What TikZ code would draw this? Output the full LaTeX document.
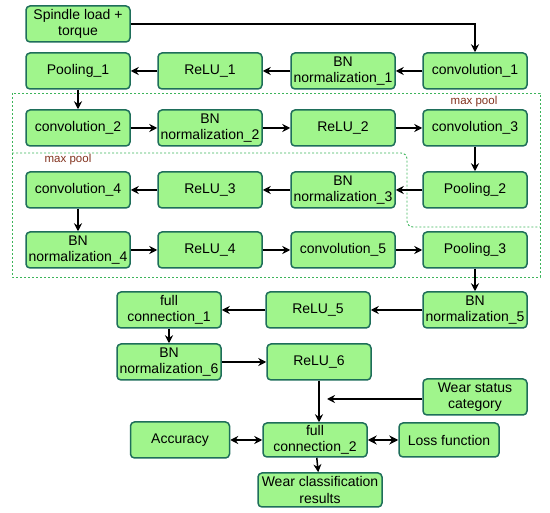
\documentclass[tikz,border=0pt]{standalone}
\usepackage{fontspec}
\setmainfont{Liberation Sans}
\usepackage{xcolor}
\usetikzlibrary{arrows.meta}
\definecolor{boxfill}{RGB}{160,245,140}
\definecolor{boxline}{RGB}{30,110,90}
\definecolor{pooldash}{RGB}{60,180,90}
\definecolor{pooltext}{RGB}{130,50,30}
\tikzset{
	block/.style={draw=boxline, fill=boxfill, line width=1.5pt, rounded corners=4pt,
			minimum width=104pt, minimum height=36pt, inner sep=1pt, align=center,
			font=\fontsize{14}{16.5}\selectfont},
	flow/.style={-{Stealth[length=8pt,width=8pt]}, line width=1.5pt},
	poolbox/.style={draw=pooldash, line width=0.9pt, dash pattern=on 2pt off 2pt},
	poollabel/.style={text=pooltext, font=\fontsize{11.5}{13}\selectfont, inner sep=1pt}
}

\begin{document}
\begin{tikzpicture}[x=1pt, y=-1pt]
	\useasboundingbox (0,0) rectangle (550,513);

	% max pool regions
	\draw[poolbox] (12,93) rectangle (540,277);
	\draw[poolbox, rounded corners=6pt] (12,153) -- (407,153) -- (407,227) -- (540,227);
	\node[poollabel] (mpa) at (474,102) {max pool};
	\node[poollabel] (mpb) at (68,160) {max pool};

	% Input and first block
	\node[block] (spin) at (78,24) {Spindle load +\\torque};
	\node[block] (pool1) at (78,71) {Pooling\_1};
	\node[block] (relu1) at (210,71) {ReLU\_1};
	\node[block] (bn1) at (343,71) {BN\\normalization\_1};
	\node[block] (conv1) at (475,71) {convolution\_1};

	% Second row
	\node[block] (conv2) at (78,128) {convolution\_2};
	\node[block] (bn2) at (210,128) {BN\\normalization\_2};
	\node[block] (relu2) at (343,128) {ReLU\_2};
	\node[block] (conv3) at (475,128) {convolution\_3};

	% Third row
	\node[block] (conv4) at (78,190) {convolution\_4};
	\node[block] (relu3) at (210,190) {ReLU\_3};
	\node[block] (bn3) at (343,190) {BN\\normalization\_3};
	\node[block] (pool2) at (475,190) {Pooling\_2};

	% Fourth row
	\node[block] (bn4) at (78,250) {BN\\normalization\_4};
	\node[block] (relu4) at (210,250) {ReLU\_4};
	\node[block] (conv5) at (343,250) {convolution\_5};
	\node[block] (pool3) at (475,250) {Pooling\_3};

	% Fully connected part
	\node[block] (bn5) at (475,310) {BN\\normalization\_5};
	\node[block] (relu5) at (318,310) {ReLU\_5};
	\node[block] (full1) at (169,310) {full\\connection\_1};
	\node[block] (bn6) at (169,362) {BN\\normalization\_6};
	\node[block] (relu6) at (319,362) {ReLU\_6};
	\node[block] (wear) at (475,397) {Wear status\\category};
	\node[block, minimum height=34pt] (full2) at (315,440) {full\\connection\_2};
	\node[block, minimum width=99pt] (acc) at (180,440) {Accuracy};
	\node[block, minimum width=100pt, minimum height=34pt] (loss) at (449,440) {Loss function};
	\node[block, minimum width=124pt, minimum height=34pt] (result) at (320,490) {Wear classification\\results};
	\coordinate (merge) at (327,399);

	% Arrows
	\draw[flow] (spin) -| (conv1);
	\draw[flow] (conv1) -- (bn1);
	\draw[flow] (bn1) -- (relu1);
	\draw[flow] (relu1) -- (pool1);
	\draw[flow] (pool1) -- (conv2);
	\draw[flow] (conv2) -- (bn2);
	\draw[flow] (bn2) -- (relu2);
	\draw[flow] (relu2) -- (conv3);
	\draw[flow] (conv3) -- (pool2);
	\draw[flow] (pool2) -- (bn3);
	\draw[flow] (bn3) -- (relu3);
	\draw[flow] (relu3) -- (conv4);
	\draw[flow] (conv4) -- (bn4);
	\draw[flow] (bn4) -- (relu4);
	\draw[flow] (relu4) -- (conv5);
	\draw[flow] (conv5) -- (pool3);
	\draw[flow] (pool3) -- (bn5);
	\draw[flow] (bn5) -- (relu5);
	\draw[flow] (relu5) -- (full1);
	\draw[flow] (full1) -- (bn6);
	\draw[flow] (bn6) -- (relu6);
	\draw[flow] (relu6.south) -- (relu6.south |- full2.north);
	\draw[flow] (wear.west |- merge) -- (merge);
	\draw[flow, {Stealth[length=8pt,width=8pt]}-{Stealth[length=8pt,width=8pt]}, line width=1.2pt] (full2) -- (acc);
	\draw[flow, {Stealth[length=9pt,width=9pt]}-{Stealth[length=9pt,width=9pt]}, line width=2.4pt] (full2) -- (loss);
	\draw[flow] (full2) -- (result);
\end{tikzpicture}
\end{document}
